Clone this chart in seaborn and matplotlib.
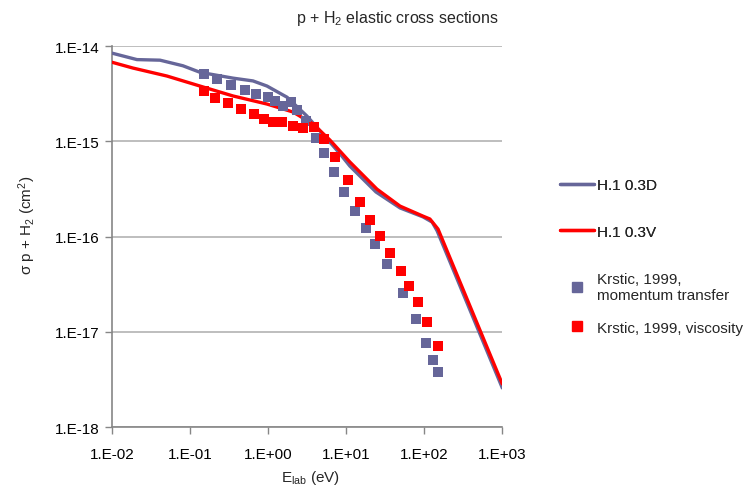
import numpy as np
import pandas as pd
import matplotlib
matplotlib.use("Agg")
import matplotlib.pyplot as plt
import seaborn as sns
from matplotlib.lines import Line2D
from matplotlib.ticker import FixedLocator, FixedFormatter, NullLocator

# ---- data ----
e_line_d = [0.01, 0.0207, 0.0409, 0.0805, 0.133, 0.353, 0.637, 0.962, 1.74, 3.13, 5.66, 8.30, 11.1, 24.0, 48.8, 96.2, 126, 146, 1000]
s_line_d = [8.4e-15, 7.2e-15, 7.1e-15, 6.2e-15, 5.3e-15, 4.6e-15, 4.3e-15, 3.8e-15, 2.9e-15, 1.84e-15, 1.06e-15,
            7.4e-16, 5.5e-16, 2.94e-16, 2.0e-16, 1.61e-16, 1.42e-16, 1.15e-16, 2.58e-18]

e_line_v = [0.01, 0.0184, 0.0502, 0.133, 0.353, 0.962, 2.07, 3.74, 6.17, 11.1, 24.7, 48.8, 96.2, 118, 150, 1000]
s_line_v = [6.74e-15, 5.87e-15, 4.84e-15, 3.80e-15, 2.99e-15, 2.46e-15, 2.03e-15, 1.52e-15, 1.03e-15,
            6.07e-16, 3.15e-16, 2.09e-16, 1.64e-16, 1.53e-16, 1.20e-16, 2.84e-18]

e_mt = [0.150, 0.220, 0.333, 0.503, 0.695, 0.99, 1.22, 1.54, 1.95, 2.33, 3.04, 4.09, 5.18, 6.95, 9.35,
        12.9, 17.9, 23.3, 33.2, 53.3, 78.3, 105, 129, 150]
s_mt = [5.08e-15, 4.51e-15, 3.90e-15, 3.45e-15, 3.13e-15, 2.92e-15, 2.65e-15, 2.35e-15, 2.58e-15, 2.13e-15,
        1.63e-15, 1.08e-15, 7.54e-16, 4.76e-16, 2.94e-16, 1.86e-16, 1.23e-16, 8.36e-17, 5.15e-17, 2.56e-17,
        1.37e-17, 7.64e-18, 5.07e-18, 3.79e-18]

e_visc = [0.150, 0.207, 0.304, 0.447, 0.656, 0.881, 1.15, 1.50, 2.07, 2.79, 3.85, 5.18, 7.16, 10.5, 15.0,
          20.1, 27.1, 36.3, 50.2, 63.6, 83.0, 108, 150]
s_visc = [3.37e-15, 2.85e-15, 2.52e-15, 2.18e-15, 1.93e-15, 1.71e-15, 1.60e-15, 1.60e-15, 1.45e-15, 1.38e-15,
          1.41e-15, 1.06e-15, 6.84e-16, 3.93e-16, 2.31e-16, 1.49e-16, 1.01e-16, 6.73e-17, 4.36e-17, 3.03e-17,
          2.06e-17, 1.27e-17, 7.11e-18]

x_ticks = [1e-2, 1e-1, 1e0, 1e1, 1e2, 1e3]
x_tick_labels = ["1.E-02", "1.E-01", "1.E+00", "1.E+01", "1.E+02", "1.E+03"]
y_ticks = [1e-18, 1e-17, 1e-16, 1e-15, 1e-14]
y_tick_labels = ["1.E-18", "1.E-17", "1.E-16", "1.E-15", "1.E-14"]

series_names = ["H.1 0.3D", "H.1 0.3V", "Krstic, 1999,\nmomentum transfer", "Krstic, 1999, viscosity"]

# ---- style ----
sns.set_theme(style="white")
plt.rcParams["font.family"] = ["Liberation Sans", "DejaVu Sans"]
plt.rcParams["mathtext.fontset"] = "custom"
plt.rcParams["mathtext.rm"] = "Liberation Sans"
plt.rcParams["mathtext.it"] = "Liberation Sans"
plt.rcParams["mathtext.default"] = "regular"

BLUE = "#666699"
RED = "#FF0000"
GREY = "#868686"
FS = 11

fig = plt.figure(figsize=(7.54, 4.89), dpi=100)
W, H = 754, 489
x0, x1, y0, y1 = 112.3, 502.3, 47.0, 428.2
ax = fig.add_axes([x0 / W, 1 - y1 / H, (x1 - x0) / W, (y1 - y0) / H])

df_d = pd.DataFrame({"E": e_line_d, "s": s_line_d})
df_v = pd.DataFrame({"E": e_line_v, "s": s_line_v})
df_mt = pd.DataFrame({"E": e_mt, "s": s_mt})
df_vs = pd.DataFrame({"E": e_visc, "s": s_visc})

ax.set_xscale("log")
ax.set_yscale("log")

sns.lineplot(data=df_d, x="E", y="s", ax=ax, color=BLUE, lw=2.4, sort=False, estimator=None, zorder=3)
sns.lineplot(data=df_v, x="E", y="s", ax=ax, color=RED, lw=2.4, sort=False, estimator=None, zorder=4)
sns.scatterplot(data=df_mt, x="E", y="s", ax=ax, color=BLUE, marker="s", s=42, linewidth=0, zorder=5)
sns.scatterplot(data=df_vs, x="E", y="s", ax=ax, color=RED, marker="s", s=42, linewidth=0, zorder=6)

ax.set_xlim(1e-2, 1e3)
ax.set_ylim(1e-18, 1e-14)
ax.xaxis.set_major_locator(FixedLocator(x_ticks))
ax.xaxis.set_major_formatter(FixedFormatter(x_tick_labels))
ax.xaxis.set_minor_locator(NullLocator())
ax.yaxis.set_major_locator(FixedLocator(y_ticks))
ax.yaxis.set_major_formatter(FixedFormatter(y_tick_labels))
ax.yaxis.set_minor_locator(NullLocator())

ax.grid(False)
ax.yaxis.grid(True, color="#b3b3b3", lw=1.2, zorder=0)
ax.set_axisbelow(True)
for side in ["top", "right"]:
    ax.spines[side].set_visible(False)
for side in ["left", "bottom"]:
    ax.spines[side].set_color(GREY)
    ax.spines[side].set_linewidth(1.2)
ax.tick_params(axis="both", which="major", direction="out", length=5, width=1, color=GREY,
               labelsize=FS, labelcolor="black", bottom=True, left=True)
ax.tick_params(axis="x", pad=9)
ax.tick_params(axis="y", pad=4)
ax.set_xlabel("")
ax.set_ylabel("")

fig.text(397 / W, 1 - 19 / H, "p + H$_2$ elastic cross sections", ha="center", va="center", fontsize=11.5)
fig.text(311 / W, 1 - 478 / H, "E$_{lab}$ (eV)", ha="center", va="center", fontsize=FS)
fig.text(27 / W, 1 - 225 / H, "σ p + H$_2$ (cm$^2$)", ha="center", va="center", rotation=90, fontsize=FS)

# ---- legends ----
line_handles = [Line2D([], [], color=BLUE, lw=2.4), Line2D([], [], color=RED, lw=2.4)]
leg1 = fig.legend(line_handles, series_names[:2], loc="upper left",
                  bbox_to_anchor=(560 / W, 1 - 179 / H), frameon=False, fontsize=FS,
                  handlelength=2.2, handletextpad=0.25, labelspacing=2.13, borderpad=0, borderaxespad=0)
mark_handles = [Line2D([], [], color=BLUE, marker="s", ls="none", markersize=6.5),
                Line2D([], [], color=RED, marker="s", ls="none", markersize=6.5)]
leg2 = fig.legend(mark_handles, series_names[2:], loc="upper left",
                  bbox_to_anchor=(560 / W, 1 - 273 / H), frameon=False, fontsize=FS,
                  handlelength=2.2, handletextpad=0.25, labelspacing=1.2, borderpad=0, borderaxespad=0)
fig.add_artist(leg1)

fig.savefig("out.png", dpi=100)
